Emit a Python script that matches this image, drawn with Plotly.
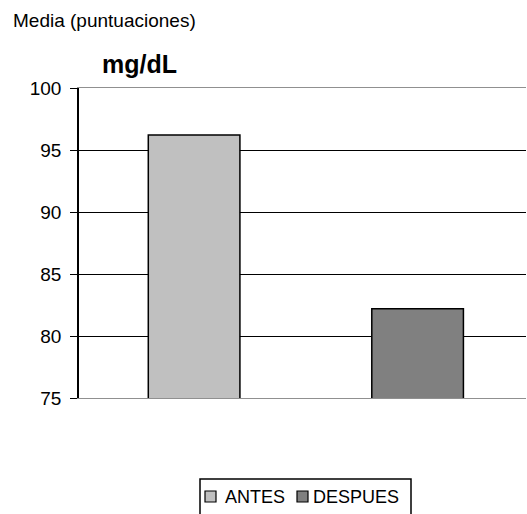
import plotly.graph_objects as go

categories = ["ANTES", "DESPUES"]
values = [96.2, 82.2]
colors = ["#C0C0C0", "#808080"]
y_ticks = [75, 80, 85, 90, 95, 100]

W, H = 527, 514
ML, MR, MT, MB = 79, 1, 88, 116
PW, PH = W - ML - MR, H - MT - MB

def px_x(x):
    return (x - ML) / PW

def px_y(y):
    return (H - MB - y) / PH

FONT = "Liberation Sans, Arial, sans-serif"

fig = go.Figure()
for c, v, col in zip(categories, values, colors):
    fig.add_trace(go.Bar(
        x=[c], y=[v], name=c, width=0.41, showlegend=False,
        marker=dict(color=col, line=dict(color="#000000", width=1.5)),
    ))

# manual legend (compact, like the original)
shapes = [dict(type="rect", xref="paper", yref="paper",
               x0=px_x(200), x1=px_x(411), y0=px_y(479), y1=px_y(530),
               line=dict(color="#000000", width=1.5), fillcolor="white", layer="above")]
annotations = []
leg_sq = [205, 297]
leg_tx = [223, 311]
for c, col, sx, tx in zip(categories, colors, leg_sq, leg_tx):
    shapes.append(dict(type="rect", xref="paper", yref="paper",
                       x0=px_x(sx), x1=px_x(sx + 11), y0=px_y(491), y1=px_y(502),
                       line=dict(color="#000000", width=1.2), fillcolor=col, layer="above"))
    annotations.append(dict(text=c, xref="paper", yref="paper",
                            x=px_x(tx), y=px_y(497), xanchor="left", yanchor="middle",
                            showarrow=False, font=dict(family=FONT, size=18, color="#000000")))

annotations += [
    dict(text="Media (puntuaciones)", xref="paper", yref="paper",
         x=px_x(11), y=px_y(20), xanchor="left", yanchor="middle",
         showarrow=False, font=dict(family=FONT, size=19, color="#000000")),
    dict(text="<b>mg/dL</b>", xref="paper", yref="paper",
         x=px_x(139), y=px_y(64), xanchor="center", yanchor="middle",
         showarrow=False, font=dict(family=FONT, size=25, color="#000000")),
]

fig.update_layout(
    width=W, height=H,
    margin=dict(l=ML, r=MR, t=MT, b=MB),
    paper_bgcolor="white", plot_bgcolor="white",
    barmode="overlay",
    font=dict(family=FONT, size=18, color="#000000"),
    showlegend=False,
    xaxis=dict(
        type="category", categoryarray=categories, range=[-0.515, 1.485],
        showticklabels=False, ticks="", showgrid=False,
        showline=True, linecolor="#909090", linewidth=1, mirror=True,
        zeroline=False,
    ),
    yaxis=dict(
        range=[75, 100], tickvals=y_ticks, ticks="outside", ticklen=7,
        tickcolor="#000000", tickwidth=1,
        showline=True, linecolor="#000000", linewidth=1.5,
        showgrid=True, gridcolor="#000000", gridwidth=1,
        zeroline=False, ticklabelstandoff=5,
        tickfont=dict(family=FONT, size=19),
    ),
    shapes=shapes,
    annotations=annotations,
)

fig.write_html("out.html")
